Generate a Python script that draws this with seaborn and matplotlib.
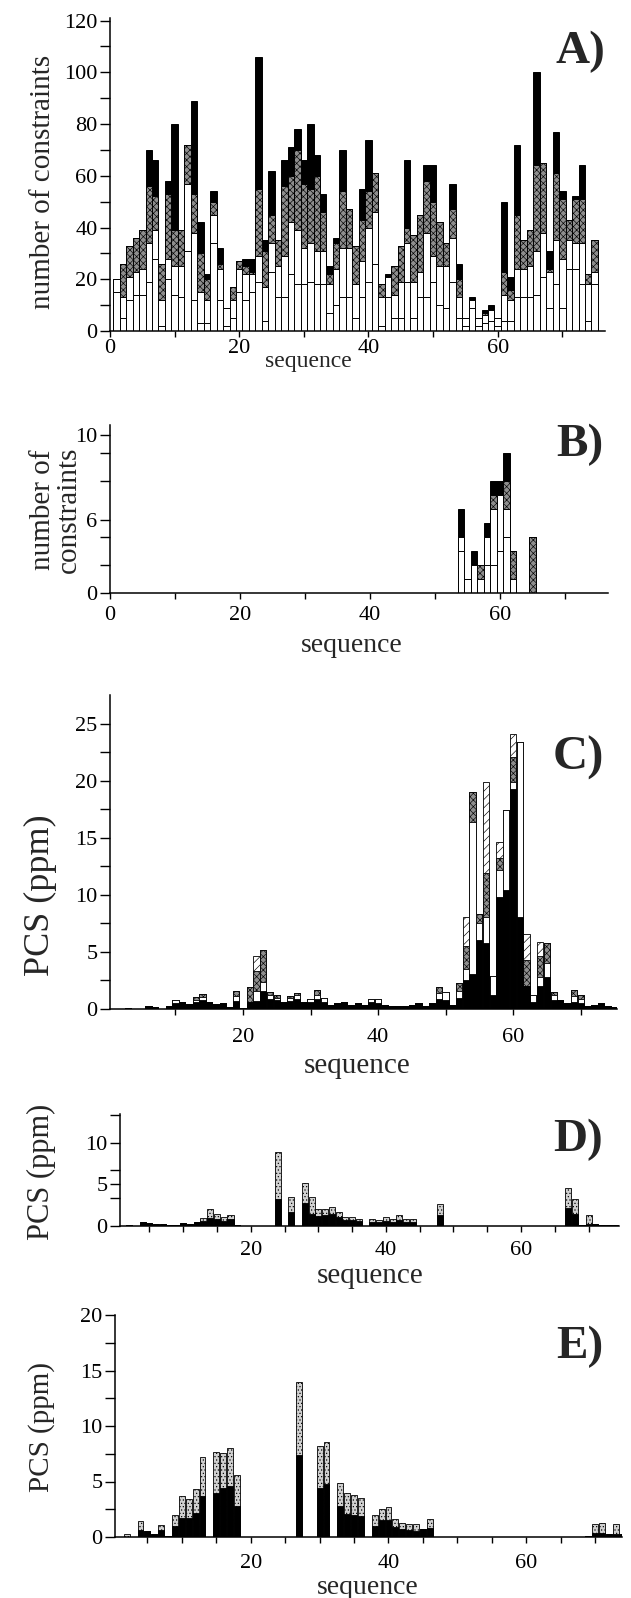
import numpy as np
import matplotlib
matplotlib.use('Agg')
import matplotlib.pyplot as plt
import seaborn as sns

# ---------------- data ----------------
residues = list(range(1, 76))

# A) NOE constraints per residue (intraresidue / sequential / medium / long range)
a_intra = [15, 5, 12, 14, 14, 19, 28, 2, 20, 14, 13, 31, 12, 3, 3, 34, 12, 2, 5, 15,
           12, 15, 19, 4, 23, 13, 13, 22, 18, 18, 19, 18, 18, 7, 10, 13, 13, 5, 13, 19,
           26, 2, 13, 5, 5, 19, 5, 13, 13, 19, 10, 9, 19, 5, 2, 9, 2, 3, 4, 2,
           4, 4, 13, 13, 13, 14, 21, 9, 18, 9, 24, 24, 18, 4, 18]
a_seq = [5, 8, 9, 9, 10, 15, 11, 10, 8, 11, 12, 26, 26, 12, 9, 11, 12, 7, 7, 9,
         10, 7, 10, 13, 11, 12, 16, 20, 21, 14, 15, 13, 13, 11, 14, 19, 19, 13, 14, 21,
         20, 11, 8, 9, 14, 15, 14, 10, 25, 10, 15, 16, 17, 8, 3, 3, 3, 3, 4, 3,
         10, 8, 11, 11, 12, 17, 17, 14, 17, 19, 11, 10, 16, 14, 5]
a_medium = [0, 13, 12, 13, 15, 22, 13, 14, 25, 14, 14, 15, 15, 15, 8, 5, 2, 0, 5, 3,
            3, 1, 26, 14, 11, 10, 27, 18, 31, 25, 21, 29, 15, 4, 10, 22, 15, 15, 16, 14,
            15, 5, 0, 11, 14, 6, 18, 22, 20, 21, 17, 9, 11, 7, 0, 0, 0, 1, 0, 0,
            9, 4, 21, 11, 14, 33, 27, 1, 26, 23, 8, 17, 17, 4, 12]
a_long = [0, 0, 0, 0, 0, 14, 14, 0, 5, 41, 0, 0, 36, 12, 2, 4, 6, 0, 0, 0,
          3, 5, 51, 4, 17, 0, 10, 11, 8, 9, 25, 8, 7, 3, 2, 16, 0, 0, 12, 20,
          0, 0, 1, 0, 0, 26, 0, 0, 6, 14, 0, 0, 10, 6, 0, 1, 0, 1, 2, 0,
          27, 5, 27, 0, 0, 36, 0, 7, 16, 3, 0, 1, 13, 0, 0]

# B) constraints involving the paramagnetic region
b_res = [54, 55, 56, 57, 58, 59, 60, 61, 62, 65]
b_intra = [3, 0, 0, 0, 2, 2, 3, 4, 0, 0]
b_seq = [1, 1, 2, 1, 2, 4, 4, 2, 1, 0]
b_medium = [0, 0, 0, 1, 0, 1, 0, 2, 2, 4]
b_long = [2, 0, 1, 0, 1, 1, 1, 2, 0, 0]

# C) PCS per residue, stacked contributions
c_black = [0, 0, 0.1, 0, 0, 0.25, 0.15, 0, 0.3, 0.5,
           0.6, 0.45, 0.6, 0.8, 0.6, 0.45, 0.55, 0.2, 0.7, 0.1,
           0.6, 0.7, 1.6, 0.9, 0.8, 0.65, 0.7, 0.9, 0.65, 0.6,
           0.9, 0.6, 0.35, 0.55, 0.6, 0.35, 0.5, 0.35, 0.6, 0.55,
           0.35, 0.25, 0.25, 0.25, 0.35, 0.5, 0.25, 0.55, 0.9, 0.8,
           0.35, 1.0, 2.5, 3.1, 6.0, 5.75, 1.2, 9.8, 10.4, 19.3,
           8.1, 2.0, 0.6, 2.0, 2.8, 0.8, 0.8, 0.5, 0.6, 0.5,
           0.25, 0.35, 0.5, 0.25, 0.2]
c_white = [0, 0, 0, 0, 0, 0, 0, 0, 0, 0.25,
           0, 0, 0.2, 0.25, 0, 0, 0, 0, 0.45, 0,
           0, 0.9, 0.8, 0.3, 0.2, 0, 0.25, 0.3, 0, 0.3,
           0.35, 0.4, 0, 0, 0, 0, 0, 0, 0.3, 0.3,
           0, 0, 0, 0, 0, 0, 0, 0, 0.5, 0.7,
           0, 0.6, 1.0, 13.3, 1.5, 2.35, 1.7, 2.4, 7.0, 0.6,
           15.3, 0, 0.6, 0.8, 1.2, 0.4, 0, 0, 0.5, 0.4,
           0, 0, 0, 0, 0]
c_gray = [0, 0, 0, 0, 0, 0, 0, 0, 0, 0,
          0, 0, 0.25, 0.25, 0, 0, 0, 0, 0.4, 0,
          1.35, 1.7, 2.8, 0.25, 0.25, 0, 0.2, 0.2, 0, 0,
          0.4, 0, 0, 0, 0, 0, 0, 0, 0, 0,
          0, 0, 0, 0, 0, 0, 0, 0, 0.5, 0,
          0, 0.65, 2.0, 2.6, 0.8, 3.8, 0, 1.0, 0, 2.2,
          0, 2.3, 0, 1.8, 1.75, 0.3, 0, 0, 0.6, 0.3,
          0, 0, 0, 0, 0]
c_hatch = [0, 0, 0, 0, 0, 0, 0, 0, 0, 0,
           0, 0, 0, 0, 0, 0, 0, 0, 0, 0,
           0, 1.3, 0, 0, 0, 0, 0, 0, 0, 0,
           0, 0, 0, 0, 0, 0, 0, 0, 0, 0,
           0, 0, 0, 0, 0, 0, 0, 0, 0, 0,
           0, 0, 2.6, 0, 0, 8.0, 0, 1.4, 0, 2.0,
           0, 2.3, 0, 1.3, 0, 0, 0, 0, 0, 0,
           0, 0, 0, 0, 0]

# D) PCS, second metal
de_res = list(range(1, 75))
d_black = [0, 0.1, 0, 0.45, 0.35, 0.25, 0.3, 0.1, 0.15, 0.4,
           0.25, 0.5, 0.6, 1.0, 0.9, 0.6, 0.8, 0.1, 0.05, 0.05,
           0.05, 0.05, 0.05, 3.3, 0, 1.7, 0, 2.8, 1.5, 1.2,
           1.3, 1.4, 1.1, 0.7, 0.7, 0.6, 0, 0.5, 0.45, 0.6,
           0.5, 0.7, 0.5, 0.5, 0, 0, 0, 1.3, 0, 0,
           0, 0, 0, 0, 0, 0, 0, 0, 0, 0,
           0, 0, 0, 0, 0, 0, 2.2, 1.4, 0.1, 0.3,
           0.25, 0.15, 0.15, 0.1]
d_gray = [0, 0, 0, 0, 0, 0, 0, 0, 0, 0,
          0, 0, 0.4, 1.1, 0.6, 0.45, 0.5, 0, 0, 0,
          0, 0, 0, 5.6, 0, 1.8, 0, 2.4, 2.0, 0.85,
          0.8, 0.85, 0.6, 0.4, 0.35, 0.3, 0, 0.3, 0.3, 0.5,
          0.4, 0.6, 0.4, 0.4, 0, 0, 0, 1.4, 0, 0,
          0, 0, 0, 0, 0, 0, 0, 0, 0, 0,
          0, 0, 0, 0, 0, 0, 2.4, 1.9, 0, 1.0,
          0, 0, 0, 0]

# E) PCS, third metal
e_black = [0, 0, 0, 0.6, 0.5, 0.3, 0.6, 0.05, 1.0, 1.7,
           1.7, 2.2, 3.7, 0, 4.0, 4.4, 4.6, 2.8, 0, 0,
           0, 0, 0, 0, 0, 0, 7.4, 0, 0, 4.4,
           4.8, 0, 2.8, 2.1, 2.0, 1.9, 0, 1.0, 1.5, 1.5,
           0.9, 0.7, 0.6, 0.5, 0.7, 0.8, 0, 0, 0, 0,
           0, 0, 0, 0, 0, 0, 0, 0, 0, 0,
           0, 0, 0, 0, 0, 0, 0, 0, 0.1, 0.4,
           0.4, 0.3, 0.3, 0.25]
e_gray = [0, 0.3, 0, 0.8, 0, 0, 0.5, 0, 1.0, 2.0,
          1.7, 2.1, 3.5, 0, 3.7, 3.2, 3.4, 2.8, 0, 0,
          0, 0, 0, 0, 0, 0, 6.6, 0, 0, 3.8,
          3.8, 0, 2.1, 1.9, 1.8, 1.6, 0, 1.0, 1.0, 1.2,
          0.75, 0.6, 0.6, 0.7, 0, 0.8, 0, 0, 0, 0,
          0, 0, 0, 0, 0, 0, 0, 0, 0, 0,
          0, 0, 0, 0, 0, 0, 0, 0, 0, 0.8,
          0.85, 0, 0.9, 0]

# ---------------- drawing ----------------
sns.set_theme(style='ticks')
plt.rcParams['font.family'] = ['Liberation Serif', 'DejaVu Serif']
plt.rcParams['hatch.linewidth'] = 0.45

W, H = 631, 1598
fig = plt.figure(figsize=(W / 100, H / 100), dpi=100)

GRAY = ('#8e8e8e', 'xxxxx')
LIGHT = ('#d0d0d0', '.....')
BLACK = ('black', None)
WHITE = ('white', None)
HATCH = ('white', '////')


def box(left, right, top, bottom):
    return fig.add_axes([left / W, 1 - bottom / H, (right - left) / W, (bottom - top) / H])


def stack(ax, x, parts, styles, width, lw=0.7):
    tops = np.cumsum(np.array(parts, dtype=float), axis=0)
    for top, (face, hatch) in reversed(list(zip(tops, styles))):
        sns.barplot(x=x, y=top, ax=ax, native_scale=True, width=width, color=face,
                    saturation=1, edgecolor='black', linewidth=lw, hatch=hatch,
                    errorbar=None)


def style(ax, xlim, ylim, xt, xtl, ymaj, ymajl, ymin, xpad):
    ax.set_xlim(*xlim)
    ax.set_ylim(*ylim)
    ax.set_xticks(xt)
    ax.set_xticklabels(xtl)
    ax.set_yticks(ymaj)
    ax.set_yticklabels(ymajl)
    ax.set_yticks(ymin, minor=True)
    ax.set_xlabel('')
    ax.set_ylabel('')
    sns.despine(ax=ax)
    for s in ('left', 'bottom'):
        ax.spines[s].set_linewidth(1.1)
        ax.spines[s].set_color('black')
    ax.tick_params(axis='x', direction='out', length=4, width=1, pad=xpad,
                   labelsize=16, colors='black')
    ax.tick_params(axis='y', which='both', direction='out', length=7, width=1,
                   pad=2, labelsize=16, colors='black')


def ftext(x, y, s, size, rot=0, bold=False, **kw):
    fig.text(x / W, 1 - y / H, s, ha='center', va='center', rotation=rot,
             fontsize=size, fontweight='bold' if bold else 'normal', **kw)


# A
ax = box(110, 605, 18, 331)
stack(ax, residues, [a_intra, a_seq, a_medium, a_long], [WHITE, WHITE, GRAY, BLACK], 1.0)
style(ax, (0, 76.6), (0, 121),
      [0, 10, 20, 30, 40, 50, 60, 70], ['0', '', '20', '', '40', '', '60', ''],
      list(range(0, 121, 20)), [str(v) for v in range(0, 121, 20)], list(range(10, 121, 20)), 2)
ftext(43, 182, 'number of constraints', 21, rot=90)
ftext(308, 362, 'sequence', 17)
ftext(580, 52, 'A)', 34, bold=True)

# B
ax = box(110, 608, 425, 593)
stack(ax, b_res, [b_intra, b_seq, b_medium, b_long], [WHITE, WHITE, GRAY, BLACK], 1.0)
style(ax, (0, 76.6), (0, 12),
      [0, 10, 20, 30, 40, 50, 60, 70], ['0', '', '20', '', '40', '', '60', ''],
      [0, 5.2, 11.3], ['0', '6', '10'], [2, 4, 8, 10], 5)
ftext(56, 510, 'number of\nconstraints', 21, rot=90, linespacing=0.95)
ftext(352, 645, 'sequence', 20)
ftext(580, 445, 'B)', 34, bold=True)

# C
ax = box(110, 617, 695, 1009)
stack(ax, residues, [c_black, c_white, c_gray, c_hatch], [BLACK, WHITE, GRAY, HATCH], 0.9, lw=0.6)
style(ax, (0.3, 75.4), (0, 27.5),
      [10, 20, 30, 40, 50, 60, 70], ['', '20', '', '40', '', '60', ''],
      [0, 5, 10, 15, 20, 25], ['0', '5', '10', '15', '20', '25'],
      [2.5, 7.5, 12.5, 17.5, 22.5], 10)
ftext(40, 895, 'PCS (ppm)', 26, rot=90)
ftext(357, 1066, 'sequence', 21)
ftext(578, 758, 'C)', 35, bold=True)

# D
ax = box(120, 619, 1114, 1226)
stack(ax, de_res, [d_black, d_gray], [BLACK, LIGHT], 0.9, lw=0.6)
style(ax, (0.64, 74.5), (0, 13.45),
      list(range(5, 75, 5)), ['' if v % 20 else str(v) for v in range(5, 75, 5)],
      [0, 5, 10], ['0', '5', '10'], [3.33, 6.67, 13.33], 7)
ftext(41, 1172, 'PCS (ppm)', 22, rot=90)
ftext(370, 1276, 'sequence', 21)
ftext(578, 1140, 'D)', 34, bold=True)

# E
ax = box(115, 622, 1315, 1537)
stack(ax, de_res, [e_black, e_gray], [BLACK, LIGHT], 0.85, lw=0.6)
style(ax, (0.3, 73.9), (0, 20),
      list(range(5, 75, 5)), ['' if v % 20 else str(v) for v in range(5, 75, 5)],
      [0, 5, 10, 15, 20], ['0', '5', '10', '15', '20'], [2.5, 7.5, 12.5, 17.5], 8)
ftext(42, 1427, 'PCS (ppm)', 21, rot=90)
ftext(368, 1587, 'sequence', 20)
ftext(580, 1347, 'E)', 34, bold=True)

fig.savefig('out.png', dpi=100)
